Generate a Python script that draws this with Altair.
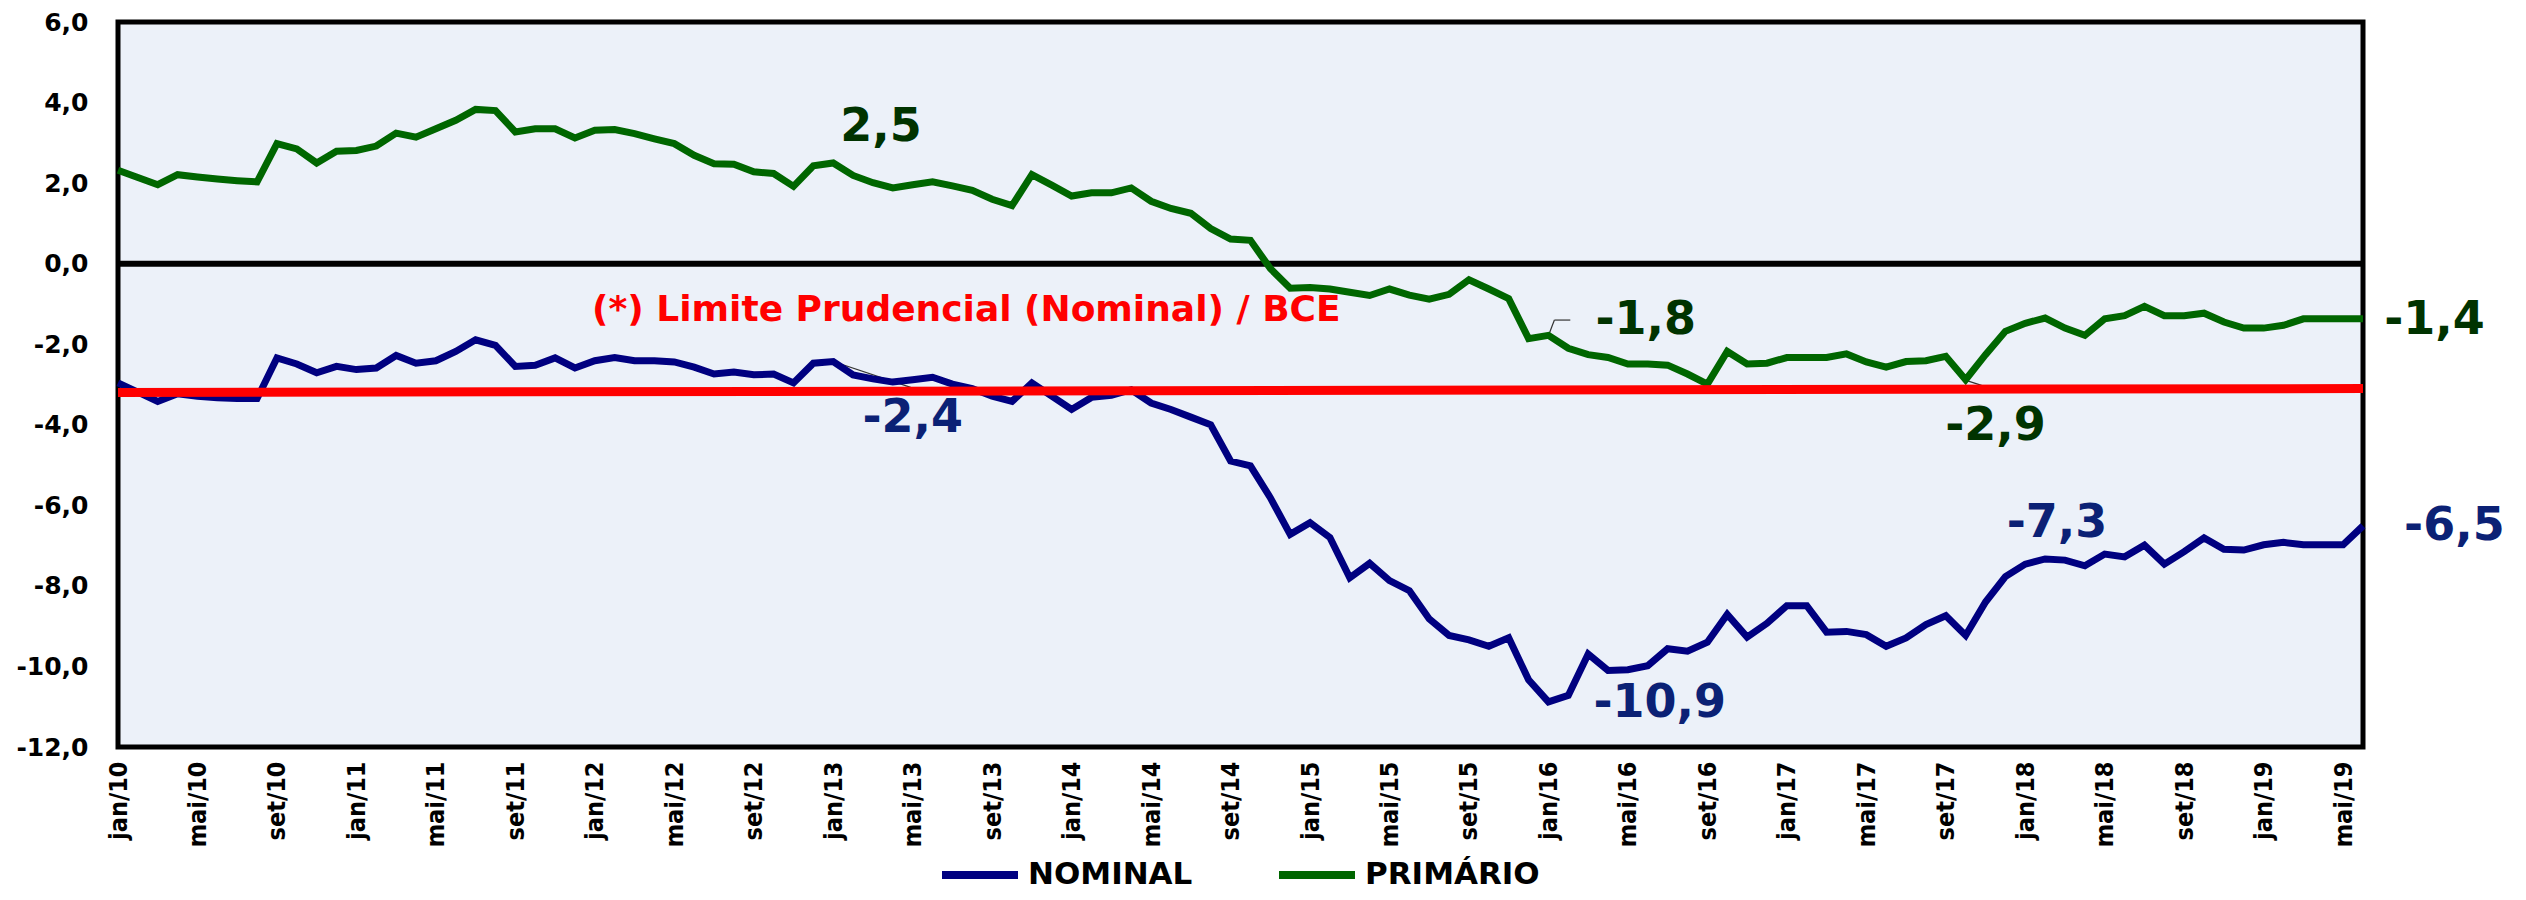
import altair as alt
import pandas as pd

# ---------------- dados ----------------
ABREV = ["jan", "fev", "mar", "abr", "mai", "jun", "jul", "ago", "set", "out", "nov", "dez"]
ANOS = ["10", "11", "12", "13", "14", "15", "16", "17", "18", "19"]
MESES = [f"{m}/{a}" for a in ANOS for m in ABREV][:114]  # jan/10 ... jun/19

NOMINAL = [
    -2.96, -3.19, -3.42, -3.23, -3.29, -3.33, -3.35, -3.35, -2.34, -2.49, -2.71, -2.55,
    -2.63, -2.59, -2.28, -2.47, -2.41, -2.18, -1.89, -2.03, -2.55, -2.52, -2.34, -2.59,
    -2.41, -2.33, -2.41, -2.41, -2.44, -2.57, -2.74, -2.69, -2.76, -2.74, -2.96, -2.47,
    -2.43, -2.76, -2.86, -2.94, -2.88, -2.82, -2.99, -3.10, -3.29, -3.42, -2.96, -3.29,
    -3.62, -3.32, -3.27, -3.13, -3.46, -3.62, -3.81, -4.00, -4.90, -5.02, -5.81, -6.72,
    -6.43, -6.80, -7.80, -7.44, -7.87, -8.12, -8.82, -9.23, -9.34, -9.50, -9.29, -10.33,
    -10.88, -10.72, -9.69, -10.10, -10.08, -9.98, -9.56, -9.62, -9.40, -8.71, -9.27, -8.93,
    -8.49, -8.49, -9.15, -9.13, -9.21, -9.50, -9.29, -8.96, -8.74, -9.23, -8.40, -7.77,
    -7.46, -7.33, -7.36, -7.50, -7.21, -7.28, -6.99, -7.46, -7.15, -6.81, -7.09, -7.11,
    -6.98, -6.92, -6.98, -6.98, -6.98, -6.51,
]

PRIMARIO = [
    2.32, 2.14, 1.96, 2.21, 2.15, 2.10, 2.06, 2.03, 2.98, 2.85, 2.50, 2.79,
    2.81, 2.92, 3.24, 3.14, 3.35, 3.56, 3.83, 3.80, 3.27, 3.35, 3.35, 3.12,
    3.31, 3.33, 3.23, 3.10, 2.98, 2.69, 2.48, 2.47, 2.28, 2.24, 1.92, 2.43,
    2.50, 2.19, 2.01, 1.88, 1.96, 2.03, 1.93, 1.82, 1.60, 1.44, 2.21, 1.95,
    1.68, 1.76, 1.76, 1.88, 1.55, 1.37, 1.25, 0.87, 0.61, 0.58, -0.12, -0.61,
    -0.59, -0.63, -0.71, -0.79, -0.63, -0.78, -0.88, -0.76, -0.40, -0.63, -0.87, -1.86,
    -1.78, -2.10, -2.26, -2.33, -2.49, -2.49, -2.52, -2.74, -2.99, -2.18, -2.49, -2.47,
    -2.33, -2.33, -2.33, -2.24, -2.44, -2.57, -2.43, -2.41, -2.30, -2.88, -2.26, -1.68,
    -1.48, -1.35, -1.60, -1.78, -1.37, -1.29, -1.06, -1.29, -1.29, -1.23, -1.45, -1.60,
    -1.60, -1.53, -1.37, -1.37, -1.37, -1.37,
]

TICK_LABELS = [
    "jan/10", "mai/10", "set/10", "jan/11", "mai/11", "set/11", "jan/12", "mai/12",
    "set/12", "jan/13", "mai/13", "set/13", "jan/14", "mai/14", "set/14", "jan/15",
    "mai/15", "set/15", "jan/16", "mai/16", "set/16", "jan/17", "mai/17", "set/17",
    "jan/18", "mai/18", "set/18", "jan/19", "mai/19",
]
Y_TICKS = [-12, -10, -8, -6, -4, -2, 0, 2, 4, 6]

SERIES = ["NOMINAL", "PRIMÁRIO"]
CORES = ["#000080", "#006600"]

# limite prudencial (linha vermelha desenhada à mão no original)
LIMITE_MES = [0, 113]
LIMITE_VALOR = [-3.2, -3.1]
LIMITE_TEXTO = "(*) Limite Prudencial (Nominal) / BCE"
LIMITE_TEXTO_POS = (42.7, -1.16)

# rótulos de valores
ROT_TEXTO = ["2,5", "-2,4", "-1,8", "-10,9", "-2,9", "-7,3", "-1,4", "-6,5"]
ROT_X = [38.4, 40.0, 76.9, 77.6, 94.5, 97.6, 116.6, 117.6]
ROT_Y = [3.39, -3.84, -1.40, -10.90, -4.03, -6.45, -1.40, -6.51]
ROT_COR = ["#003300", "#0B2175", "#003300", "#0B2175", "#003300", "#0B2175", "#003300", "#0B2175"]

# linhas de chamada finas (início -> fim)
CHAMADA_X = [36.0, 92.9, 72.05, 72.3]
CHAMADA_X2 = [39.9, 93.8, 72.3, 73.1]
CHAMADA_Y = [-2.43, -2.88, -1.72, -1.40]
CHAMADA_Y2 = [-3.07, -3.02, -1.40, -1.40]

# ---------------- tabelas ----------------
df = pd.DataFrame({
    "i": list(range(len(MESES))) * 2,
    "mes": MESES * 2,
    "serie": [SERIES[0]] * len(NOMINAL) + [SERIES[1]] * len(PRIMARIO),
    "valor": NOMINAL + PRIMARIO,
})
df_lim = pd.DataFrame({"i": LIMITE_MES, "valor": LIMITE_VALOR})
df_rot = pd.DataFrame({"i": ROT_X, "valor": ROT_Y, "texto": ROT_TEXTO, "cor": ROT_COR})
df_txt = pd.DataFrame({"i": [LIMITE_TEXTO_POS[0]], "valor": [LIMITE_TEXTO_POS[1]], "texto": [LIMITE_TEXTO]})
df_zero = pd.DataFrame({"valor": [0]})
df_cham = pd.DataFrame({"i": CHAMADA_X, "i2": CHAMADA_X2, "valor": CHAMADA_Y, "valor2": CHAMADA_Y2})

FONT = "DejaVu Sans"
NARROW = "Liberation Sans Narrow, Arial Narrow, DejaVu Sans Condensed, DejaVu Sans"
x_scale = alt.Scale(domain=[0, len(MESES) - 1], nice=False, zero=False)
y_scale = alt.Scale(domain=[-12, 6], nice=False, zero=False)

meses_js = "[" + ",".join(f"'{m}'" for m in MESES) + "]"
x_axis = alt.Axis(
    values=[MESES.index(t) for t in TICK_LABELS],
    labelExpr=f"{meses_js}[round(datum.value)]",
    labelAngle=270, labelAlign="right", labelBaseline="middle",
    labelFont=NARROW, labelFontWeight="bold", labelFontSize=25, labelColor="black",
    labelPadding=14, ticks=False, domain=False, grid=False, title=None,
    labelOverlap=False,
)
y_axis = alt.Axis(
    values=Y_TICKS,
    labelExpr="(datum.value < 0 ? '-' : '') + replace(format(abs(datum.value), '.1f'), '.', ',')",
    labelFont=FONT, labelFontWeight="bold", labelFontSize=25, labelColor="black",
    labelPadding=30, ticks=False, domain=False, grid=False, title=None,
)

X = alt.X("i:Q", scale=x_scale, axis=x_axis)
Y = alt.Y("valor:Q", scale=y_scale, axis=y_axis)

zero = alt.Chart(df_zero).mark_rule(color="black", strokeWidth=6).encode(
    y=alt.Y("valor:Q", scale=y_scale)
)

linhas = alt.Chart(df).mark_line(strokeWidth=7).encode(
    x=X, y=Y,
    color=alt.Color(
        "serie:N",
        scale=alt.Scale(domain=SERIES, range=CORES),
        legend=alt.Legend(
            orient="none", legendX=820, legendY=811, direction="horizontal",
            title=None, symbolType="stroke", symbolSize=5776, symbolStrokeWidth=8,
            labelFont=FONT, labelFontWeight="bold", labelFontSize=31, labelColor="black",
            labelLimit=500, columnPadding=70, labelOffset=6,
        ),
    ),
    detail="serie:N",
)

chamadas = alt.Chart(df_cham).mark_rule(color="#333333", strokeWidth=1.2).encode(
    x=alt.X("i:Q", scale=x_scale), x2="i2:Q",
    y=alt.Y("valor:Q", scale=y_scale), y2="valor2:Q",
)

limite = alt.Chart(df_lim).mark_line(color="#FF0000", strokeWidth=9).encode(
    x=alt.X("i:Q", scale=x_scale), y=alt.Y("valor:Q", scale=y_scale)
)

limite_txt = alt.Chart(df_txt).mark_text(
    font=FONT, fontWeight="bold", fontSize=36, color="#FF0000", align="center", baseline="middle"
).encode(x=alt.X("i:Q", scale=x_scale), y=alt.Y("valor:Q", scale=y_scale), text="texto:N")

rotulos = alt.Chart(df_rot).mark_text(
    font=FONT, fontWeight="bold", fontSize=46, align="center", baseline="middle"
).encode(
    x=alt.X("i:Q", scale=x_scale), y=alt.Y("valor:Q", scale=y_scale),
    text="texto:N", color=alt.Color("cor:N", scale=None),
)

chart = alt.layer(zero, chamadas, linhas, limite, limite_txt, rotulos).properties(
    width=2245, height=725,
    padding={"left": 110, "top": 14, "right": 155, "bottom": 145},
    autosize=alt.AutoSizeParams(type="none"),
    background="white",
).configure_view(
    fill="#ECF1F9", stroke="black", strokeWidth=5,
)

chart.save("out.html", embed_options={"renderer": "svg", "actions": False})
